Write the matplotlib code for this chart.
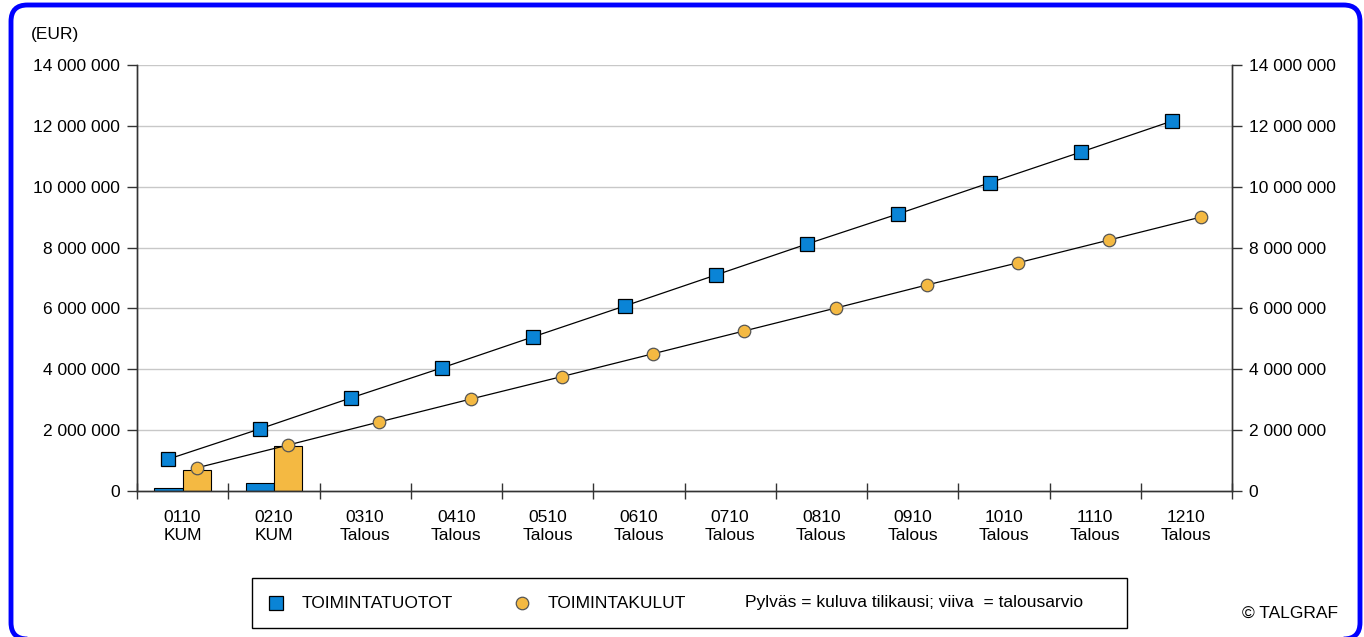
import matplotlib.pyplot as plt
import numpy as np
from matplotlib.patches import FancyBboxPatch, Rectangle
from matplotlib.lines import Line2D

plt.rcParams['font.family'] = ['Liberation Sans', 'DejaVu Sans']

months = ["0110", "0210", "0310", "0410", "0510", "0610",
          "0710", "0810", "0910", "1010", "1110", "1210"]
kinds = ["KUM", "KUM", "Talous", "Talous", "Talous", "Talous",
         "Talous", "Talous", "Talous", "Talous", "Talous", "Talous"]

# budget lines (talousarvio)
tuotot_budget = [1.05e6, 2.04e6, 3.06e6, 4.05e6, 5.07e6, 6.08e6,
                 7.10e6, 8.12e6, 9.11e6, 10.13e6, 11.14e6, 12.16e6]
kulut_budget = [0.76e6, 1.51e6, 2.27e6, 3.02e6, 3.76e6, 4.51e6,
                5.26e6, 6.01e6, 6.77e6, 7.50e6, 8.25e6, 9.00e6]
# actuals (kuluva tilikausi), only first two months
tuotot_actual = [0.09e6, 0.27e6]
kulut_actual = [0.68e6, 1.49e6]

blue = '#0A84D6'
orange = '#F4B942'
fs = 12.5

fig = plt.figure(figsize=(13.64, 6.37), dpi=100)
ax = fig.add_axes([137/1364, 1-491/637, (1232-137)/1364, (491-65)/637])

x = np.arange(len(months))
off = 0.155
w = 0.31

ax.bar(x[:len(tuotot_actual)] - off, tuotot_actual, width=w, color=blue,
       edgecolor='black', linewidth=0.8, zorder=2)
ax.bar(x[:len(kulut_actual)] + off, kulut_actual, width=w, color=orange,
       edgecolor='black', linewidth=0.8, zorder=2)

ax.plot(x - off, tuotot_budget, color='black', lw=0.9, marker='s', ms=10,
        mfc=blue, mec='black', mew=0.9, zorder=3)
ax.plot(x + off, kulut_budget, color='black', lw=0.9, marker='o', ms=9,
        mfc=orange, mec='#555555', mew=0.9, zorder=3)

ax.set_xlim(-0.5, len(months) - 0.5)
ax.set_ylim(0, 14e6)
yt = np.arange(0, 14e6 + 1, 2e6)
ylabels = ["0" if v == 0 else f"{int(v):,}".replace(",", " ") for v in yt]
ax.set_yticks(yt)
ax.set_yticklabels(ylabels)
ax.tick_params(axis='y', direction='out', length=7, width=1, labelsize=fs,
               colors='#333333', labelcolor='black', pad=5)
for v in yt[1:]:
    ax.axhline(v, color='#c8c8c8', lw=1, zorder=0)

ax2 = ax.twinx()
ax2.set_ylim(ax.get_ylim())
ax2.set_yticks(yt)
ax2.set_yticklabels(ylabels)
ax2.tick_params(axis='y', direction='out', length=7, width=1, labelsize=fs,
                colors='#333333', labelcolor='black', pad=5)

ax.set_xticks(np.arange(-0.5, len(months) - 0.4, 1.0))
ax.set_xticklabels([])
ax.set_xticks(x, minor=True)
ax.set_xticklabels([f"{m}\n{k}" for m, k in zip(months, kinds)], minor=True,
                   fontsize=fs, linespacing=1.25)
ax.tick_params(axis='x', which='major', direction='inout', length=12, width=1,
               colors='#333333')
ax.tick_params(axis='x', which='minor', length=0, pad=14)

for a in (ax, ax2):
    a.spines['top'].set_visible(False)
    for s in ('left', 'right', 'bottom'):
        a.spines[s].set_color('#333333')
        a.spines[s].set_linewidth(1)

fig.text(31/1364, 1-34/637, "(EUR)", fontsize=fs, va='center', ha='left')

# legend box
fig.add_artist(Rectangle((252/1364, 1-628/637), (1127-252)/1364, 50/637,
                         transform=fig.transFigure, fill=False,
                         edgecolor='black', lw=1))
ly = 1-603/637
fig.add_artist(Line2D([276/1364], [ly], transform=fig.transFigure, marker='s',
                      ms=10, mfc=blue, mec='black', mew=0.9, ls='none'))
fig.text(302/1364, ly, "TOIMINTATUOTOT", fontsize=fs, va='center')
fig.add_artist(Line2D([522/1364], [ly], transform=fig.transFigure, marker='o',
                      ms=9, mfc=orange, mec='#555555', mew=0.9, ls='none'))
fig.text(548/1364, ly, "TOIMINTAKULUT", fontsize=fs, va='center')
fig.text(745/1364, ly, "Pylväs = kuluva tilikausi; viiva  = talousarvio",
         fontsize=fs, va='center')

fig.text(1338/1364, 1-613/637, "© TALGRAF", fontsize=fs, va='center', ha='right')

# outer rounded frame (bottom edge runs just off the image)
fig.add_artist(FancyBboxPatch((11/1364, -2/637), 1349/1364, 634/637,
                              boxstyle="round,pad=0,rounding_size=0.012",
                              transform=fig.transFigure, fill=False,
                              edgecolor='#0000ff', lw=3.5,
                              mutation_aspect=1364/637))

fig.savefig("out.png", dpi=100)
